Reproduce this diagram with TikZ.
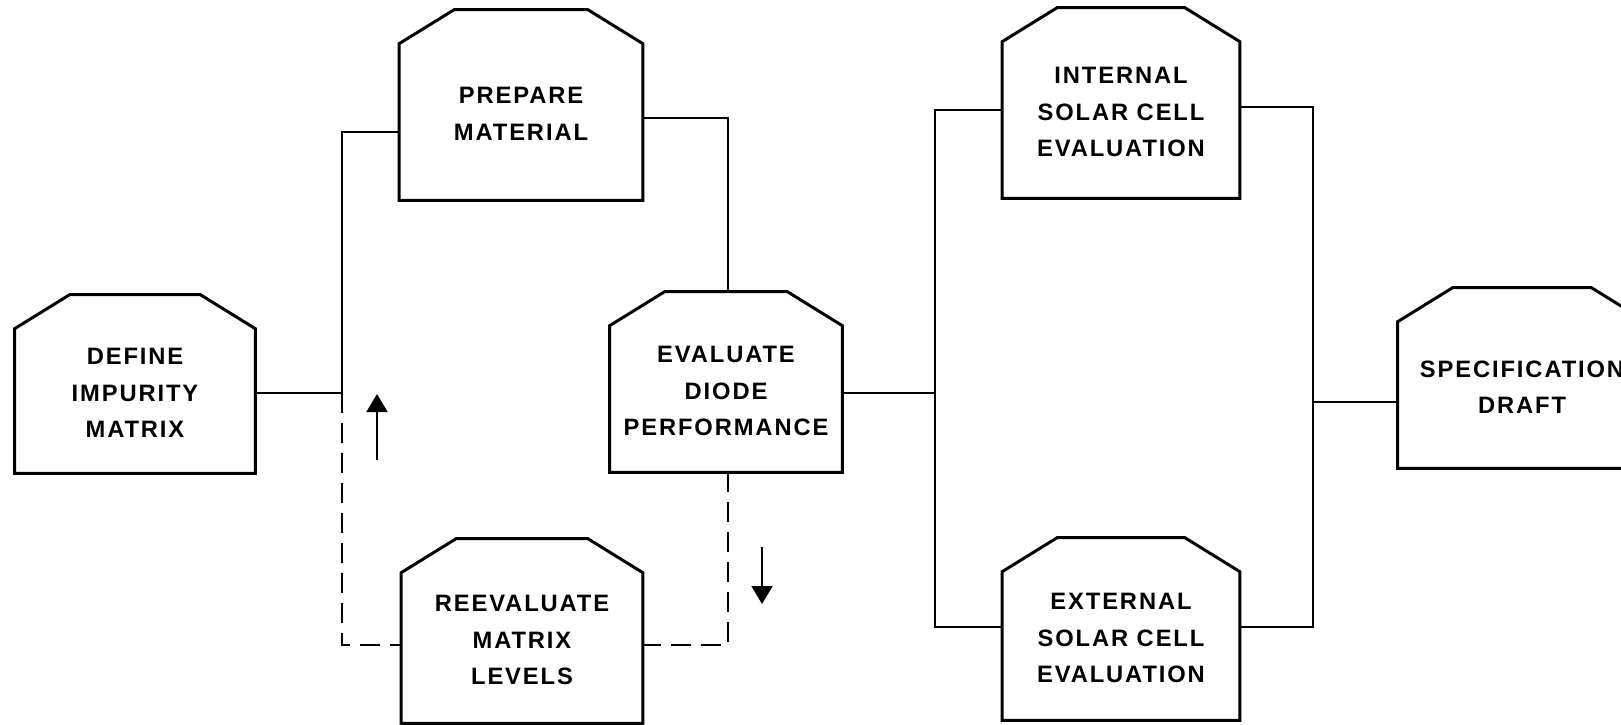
\documentclass[tikz,border=0pt]{standalone}
\usepackage{fontspec}
\setmainfont{Liberation Sans}[LetterSpace=8]
\usetikzlibrary{arrows.meta}
\newcommand{\stagetext}[1]{\begin{tabular}{@{}c@{}}\rule{0pt}{25.5pt}#1\end{tabular}}

\begin{document}
\begin{tikzpicture}[x=0.02cm, y=-0.02cm,
    stage/.style={rectangle, minimum width=4.8cm, minimum height=3.6cm, inner sep=0pt,
        font=\fontsize{13.5}{20.5}\selectfont\bfseries,
        append after command={\pgfextra{\draw[line width=1.7pt]
            (\tikzlastnode.south west) -- ([yshift=-0.68cm]\tikzlastnode.north west)
            -- ([xshift=1.1cm]\tikzlastnode.north west) -- ([xshift=-1.1cm]\tikzlastnode.north east)
            -- ([yshift=-0.68cm]\tikzlastnode.north east) -- (\tikzlastnode.south east) -- cycle;}}},
    link/.style={line width=1.1pt},
    feedback/.style={line width=1.1pt, dash pattern=on 0.4cm off 0.2cm},
    hint/.style={line width=1.1pt, -{Triangle[length=0.36cm, width=0.42cm]}}]
    \path[use as bounding box] (0,0) rectangle (1621,724);
    \clip (0,0) rectangle (1621,724);

    \node[stage, minimum width=4.8cm, minimum height=3.56cm] (define) at (135,384) {\stagetext{DEFINE\\IMPURITY\\MATRIX}};
    \node[stage, minimum width=4.86cm, minimum height=3.8cm] (prepare) at (521,105) {\stagetext{PREPARE\\MATERIAL}};
    \node[stage, minimum width=4.64cm, minimum height=3.6cm] (evaluate) at (726,382) {\stagetext{EVALUATE\\DIODE\\PERFORMANCE}};
    \node[stage, minimum width=4.82cm, minimum height=3.68cm] (reevaluate) at (522,631) {\stagetext{REEVALUATE\\MATRIX\\LEVELS}};
    \node[stage, minimum width=4.74cm, minimum height=3.8cm] (internal) at (1121,103) {\stagetext{INTERNAL\\SOLAR CELL\\EVALUATION}};
    \node[stage, minimum width=4.74cm, minimum height=3.64cm] (external) at (1121,629) {\stagetext{EXTERNAL\\SOLAR CELL\\EVALUATION}};
    \node[stage, minimum width=4.96cm, minimum height=3.6cm] (spec) at (1522,378) {\stagetext{SPECIFICATION\\DRAFT}};

    % left loop
    \coordinate (lbus) at (342,393);
    \coordinate (ltop) at (342,132);
    \coordinate (lbot) at (342,645);
    \coordinate (rtop) at (728,118);
    \coordinate (rbot) at (728,645);
    \draw[link] (define.east |- lbus) -- (lbus) -- (ltop) -- (ltop -| prepare.west);
    \draw[link] (rtop -| prepare.east) -- (rtop) -- (rtop |- evaluate.north);
    \draw[feedback] (lbus) -- (lbot) -- (lbot -| reevaluate.west);
    \draw[feedback] (evaluate.south -| rbot) -- (rbot) -- (rbot -| reevaluate.east);

    % direction hints
    \coordinate (upfrom) at (377,460);
    \coordinate (upto) at (377,394);
    \coordinate (downfrom) at (762,547);
    \coordinate (downto) at (762,604);
    \draw[hint] (upfrom) -- (upto);
    \draw[hint] (downfrom) -- (downto);

    % solar cell branches
    \coordinate (mbus) at (935,393);
    \coordinate (mtop) at (935,110);
    \coordinate (mbot) at (935,627);
    \coordinate (sbus) at (1313,402);
    \coordinate (stop) at (1313,107);
    \coordinate (sbot) at (1313,627);
    \draw[link] (evaluate.east |- mbus) -- (mbus);
    \draw[link] (mtop -| internal.west) -- (mtop) -- (mbot) -- (mbot -| external.west);
    \draw[link] (stop -| internal.east) -- (stop) -- (sbot) -- (sbot -| external.east);
    \draw[link] (sbus) -- (sbus -| spec.west);
\end{tikzpicture}
\end{document}
